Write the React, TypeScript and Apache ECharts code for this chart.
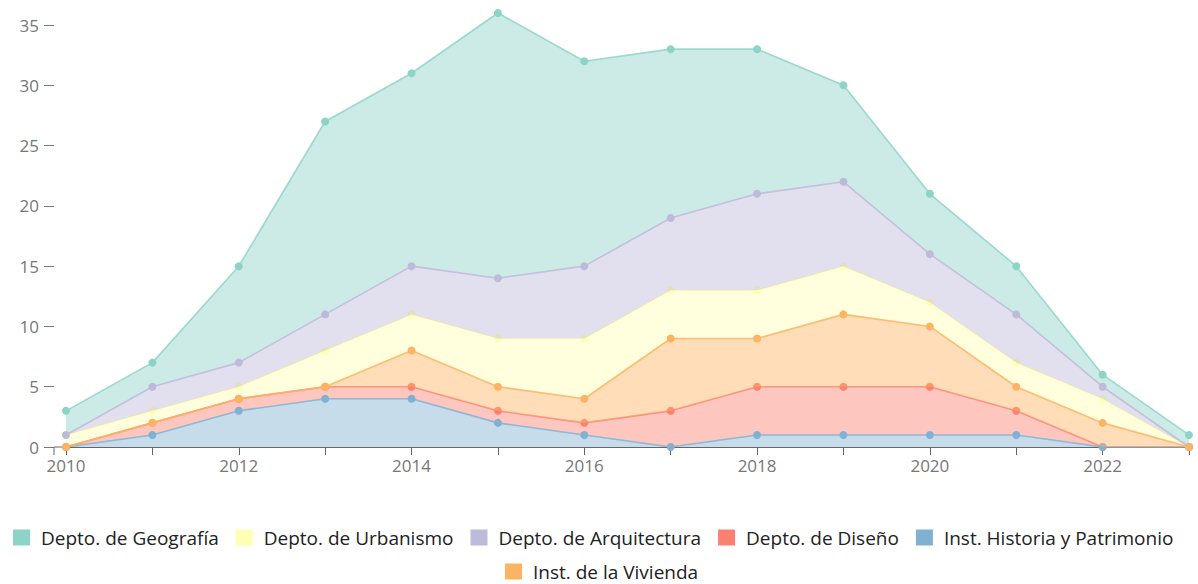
import React, { useEffect, useRef } from "react";
import * as echarts from "echarts";

const years = ["2010", "2011", "2012", "2013", "2014", "2015", "2016", "2017", "2018", "2019", "2020", "2021", "2022", "2023"];
const historia = [0, 1, 3, 4, 4, 2, 1, 0, 1, 1, 1, 1, 0, 0];
const diseno = [0, 1, 1, 1, 1, 1, 1, 3, 4, 4, 4, 2, 0, 0];
const vivienda = [0, 0, 0, 0, 3, 2, 2, 6, 4, 6, 5, 2, 2, 0];
const urbanismo = [1, 1, 1, 3, 3, 4, 5, 4, 4, 4, 2, 2, 2, 0];
const arquitectura = [0, 2, 2, 3, 4, 5, 6, 6, 8, 7, 4, 4, 1, 0];
const geografia = [2, 2, 8, 16, 16, 22, 17, 14, 12, 8, 5, 4, 1, 1];
const yTicks = [0, 5, 10, 15, 20, 25, 30, 35];

// stacking order (bottom first); z follows the legend order for drawing
const stackOrder = [
  { name: "Inst. Historia y Patrimonio", color: "#80b1d3", values: historia, z: 6 },
  { name: "Depto. de Diseño", color: "#fb8072", values: diseno, z: 5 },
  { name: "Inst. de la Vivienda", color: "#fdb462", values: vivienda, z: 7 },
  { name: "Depto. de Urbanismo", color: "#ffffb3", values: urbanismo, z: 3 },
  { name: "Depto. de Arquitectura", color: "#bebada", values: arquitectura, z: 4 },
  { name: "Depto. de Geografía", color: "#8dd3c7", values: geografia, z: 2 },
];
const legendRow1 = [
  "Depto. de Geografía",
  "Depto. de Urbanismo",
  "Depto. de Arquitectura",
  "Depto. de Diseño",
  "Inst. Historia y Patrimonio",
];
const legendRow2 = ["Inst. de la Vivienda"];

const FONT = "Open Sans";

const legendBase = {
  icon: "rect",
  itemWidth: 17,
  itemHeight: 16,
  itemGap: 17,
  orient: "horizontal",
  textStyle: { fontSize: 19, color: "#222", fontFamily: FONT, lineHeight: 19, padding: [0, 0, 0, 6] },
};

export default function App() {
  const ref = useRef<HTMLDivElement>(null);
  useEffect(() => {
    document.body.style.margin = "0";
    const chart = echarts.init(ref.current!, undefined, { renderer: "svg" });
    chart.setOption({
      animation: false,
      textStyle: { fontFamily: FONT },
      grid: { left: 66, right: 9, top: 13, bottom: 137, containLabel: false },
      xAxis: {
        type: "category",
        data: years,
        boundaryGap: false,
        splitLine: { show: false },
        axisLine: { show: true, lineStyle: { color: "#666", width: 1 } },
        axisTick: { show: true, length: 8, interval: 0, lineStyle: { color: "#666" } },
        axisLabel: {
          color: "#777",
          fontSize: 17,
          margin: 10,
          fontFamily: FONT,
          interval: 0,
          formatter: (v: string) => (Number(v) % 2 === 0 ? v : ""),
        },
      },
      yAxis: {
        type: "value",
        min: 0,
        max: 36,
        offset: 12,
        splitLine: { show: false },
        axisLine: { show: false },
        axisTick: { show: true, length: 10, customValues: yTicks, lineStyle: { color: "#777" } },
        axisLabel: { color: "#777", fontSize: 17, margin: 15, fontFamily: FONT, customValues: yTicks },
      },
      legend: [
        { ...legendBase, data: legendRow1, top: 523, left: 8 },
        { ...legendBase, data: legendRow2, top: 557, left: 500 },
      ],
      graphic: [
        { type: "line", shape: { x1: 54, y1: 447, x2: 66, y2: 447 }, style: { stroke: "#666", lineWidth: 1 } },
        { type: "line", shape: { x1: 54, y1: 447, x2: 54, y2: 455 }, style: { stroke: "#666", lineWidth: 1 } },
      ],
      series: stackOrder.map((s) => ({
        name: s.name,
        type: "line",
        stack: "total",
        z: s.z,
        data: s.values,
        symbol: "circle",
        symbolSize: 8,
        showSymbol: true,
        lineStyle: { color: s.color, width: 1.6, opacity: 0.85 },
        itemStyle: { color: s.color },
        areaStyle: { color: s.color, opacity: 0.45 },
      })),
    });
    return () => chart.dispose();
  }, []);
  return <div ref={ref} style={{ width: 1198, height: 584 }} />;
}
